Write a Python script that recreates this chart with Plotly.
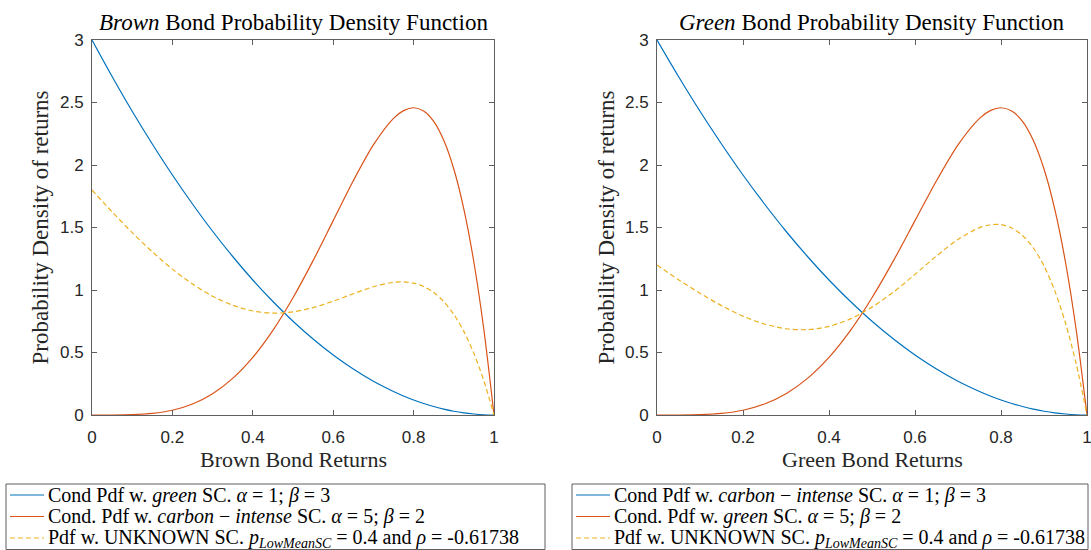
import plotly.graph_objects as go

# ---- data ----
x_vals = [0, 0.05, 0.1, 0.15, 0.2, 0.25, 0.3, 0.35, 0.4, 0.45, 0.5, 0.55, 0.6, 0.65,
          0.7, 0.75, 0.775, 0.8, 0.825, 0.85, 0.875, 0.9, 0.925, 0.95, 0.975, 1.0]
blue_pdf = [3.0, 2.708, 2.43, 2.168, 1.92, 1.688, 1.47, 1.268, 1.08, 0.908, 0.75, 0.608,
            0.48, 0.368, 0.27, 0.188, 0.152, 0.12, 0.092, 0.068, 0.047, 0.03, 0.017,
            0.008, 0.002, 0.0]
red_pdf = [0.0, 0.0002, 0.003, 0.013, 0.038, 0.088, 0.170, 0.293, 0.461, 0.677, 0.938,
           1.235, 1.555, 1.874, 2.161, 2.373, 2.435, 2.458, 2.432, 2.349, 2.198, 1.968,
           1.647, 1.222, 0.678, 0.0]
brown_unknown = [1.8, 1.625, 1.459, 1.306, 1.167, 1.048, 0.950, 0.878, 0.832, 0.815,
                 0.825, 0.859, 0.910, 0.970, 1.026, 1.062, 1.065, 1.055, 1.028, 0.980,
                 0.907, 0.805, 0.669, 0.493, 0.272, 0.0]
green_unknown = [1.2, 1.083, 0.974, 0.875, 0.791, 0.728, 0.690, 0.683, 0.709, 0.769,
                 0.863, 0.984, 1.125, 1.272, 1.405, 1.499, 1.522, 1.523, 1.496, 1.436,
                 1.338, 1.193, 0.995, 0.736, 0.408, 0.0]

x_ticks = [0, 0.2, 0.4, 0.6, 0.8, 1]
x_tick_labels = ["0", "0.2", "0.4", "0.6", "0.8", "1"]
y_ticks = [0, 0.5, 1, 1.5, 2, 2.5, 3]
y_tick_labels = ["0", "0.5", "1", "1.5", "2", "2.5", "3"]

titles = ["<i>Brown</i> Bond Probability Density Function",
          "<i>Green</i> Bond Probability Density Function"]
x_titles = ["Brown Bond Returns", "Green Bond Returns"]
y_title = "Probability Density of returns"

legend_left = ["Cond Pdf w. <i>green</i> SC. <i>α</i> = 1; <i>β</i> = 3",
               "Cond. Pdf w. <i>carbon</i> − <i>intense</i> SC. <i>α</i> = 5; <i>β</i> = 2",
               "Pdf w. UNKNOWN SC. <i>p</i><sub><i>LowMeanSC</i></sub> = 0.4 and <i>ρ</i> = -0.61738"]
legend_right = ["Cond Pdf w. <i>carbon</i> − <i>intense</i> SC. <i>α</i> = 1; <i>β</i> = 3",
                "Cond. Pdf w. <i>green</i> SC. <i>α</i> = 5; <i>β</i> = 2",
                "Pdf w. UNKNOWN SC. <i>p</i><sub><i>LowMeanSC</i></sub> = 0.4 and <i>ρ</i> = -0.61738"]

BLUE = "#0072BD"
RED = "#D95319"
YELLOW = "#EDB120"
DASH = "5px,3px"

W, H = 1091, 550
SERIF = "Liberation Serif, DejaVu Serif, serif"
SANS = "Liberation Sans, Arial, sans-serif"
AXC = "#5f5f5f"

fig = go.Figure()

panels = [
    dict(xa="x", ya="y", names=legend_left, unk=brown_unknown),
    dict(xa="x2", ya="y2", names=legend_right, unk=green_unknown),
]
for p in panels:
    series = [(blue_pdf, BLUE, "solid"), (red_pdf, RED, "solid"), (p["unk"], YELLOW, DASH)]
    for (vals, col, dash), name in zip(series, p["names"]):
        fig.add_trace(go.Scatter(
            x=x_vals, y=vals, mode="lines", name=name, showlegend=False,
            line=dict(color=col, width=1.2, dash=dash, shape="spline", smoothing=0.8),
            xaxis=p["xa"], yaxis=p["ya"]))

dom_y = [(H - 415) / H, (H - 40) / H]
dom_x1 = [92 / W, 494 / W]
dom_x2 = [657 / W, 1087 / W]

axis_common = dict(
    showline=True, linecolor=AXC, linewidth=1, mirror="ticks",
    ticks="inside", ticklen=5, tickcolor=AXC, showgrid=False, zeroline=False,
    ticklabeloverflow="allow",
    tickfont=dict(family=SANS, size=17, color="#262626"),
)

fig.update_layout(
    width=W, height=H,
    margin=dict(l=0, r=0, t=0, b=0, autoexpand=False),
    paper_bgcolor="white", plot_bgcolor="white",
    showlegend=False,
    xaxis=dict(domain=dom_x1, anchor="y", range=[0, 1], tickvals=x_ticks,
               ticktext=x_tick_labels, ticklabelstandoff=7, **axis_common),
    yaxis=dict(domain=dom_y, anchor="x", range=[0, 3], tickvals=y_ticks,
               ticktext=y_tick_labels, ticklabelstandoff=4, **axis_common),
    xaxis2=dict(domain=dom_x2, anchor="y2", range=[0, 1], tickvals=x_ticks,
                ticktext=x_tick_labels, ticklabelstandoff=7, **axis_common),
    yaxis2=dict(domain=dom_y, anchor="x2", range=[0, 3], tickvals=y_ticks,
                ticktext=y_tick_labels, ticklabelstandoff=4, **axis_common),
)

annotations = []
shapes = []
for dx, t, xt in [(dom_x1, titles[0], x_titles[0]), (dom_x2, titles[1], x_titles[1])]:
    cx = (dx[0] + dx[1]) / 2
    annotations.append(dict(x=cx, y=1 - 22 / H, xref="paper", yref="paper", text=t,
                            showarrow=False, xanchor="center", yanchor="middle",
                            font=dict(family=SERIF, size=23, color="black")))
    annotations.append(dict(x=cx, y=1 - 460 / H, xref="paper", yref="paper", text=xt,
                            showarrow=False, xanchor="center", yanchor="middle",
                            font=dict(family=SERIF, size=22, color="#262626")))
for lx in [40, 606]:
    annotations.append(dict(x=lx / W, y=(dom_y[0] + dom_y[1]) / 2, xref="paper", yref="paper",
                            text=y_title, showarrow=False, textangle=-90,
                            xanchor="center", yanchor="middle",
                            font=dict(family=SERIF, size=23, color="#262626")))

# legend boxes (built from the legend texts and series styles)
legend_boxes = [(6, 545, legend_left), (572, 1088, legend_right)]
row_y = [495, 516.5, 538]
styles = [(BLUE, "solid"), (RED, "solid"), (YELLOW, DASH)]
for x0, x1, names in legend_boxes:
    shapes.append(dict(type="rect", xref="paper", yref="paper",
                       x0=x0 / W, x1=x1 / W, y0=1 - 549.5 / H, y1=1 - 484 / H,
                       line=dict(color=AXC, width=1), fillcolor="rgba(0,0,0,0)"))
    for name, ry, (col, dash) in zip(names, row_y, styles):
        shapes.append(dict(type="line", xref="paper", yref="paper",
                           x0=(x0 + 4) / W, x1=(x0 + 38) / W, y0=1 - ry / H, y1=1 - ry / H,
                           line=dict(color=col, width=1.2, dash=dash)))
        annotations.append(dict(x=(x0 + 40) / W, y=1 - ry / H, xref="paper", yref="paper",
                                text=name, showarrow=False, xanchor="left", yanchor="middle",
                                font=dict(family=SERIF, size=20, color="black")))

fig.update_layout(annotations=annotations, shapes=shapes)

fig.write_html("out.html", config={"displayModeBar": False},
               post_script="document.body.style.margin='0';document.body.style.padding='0';")
